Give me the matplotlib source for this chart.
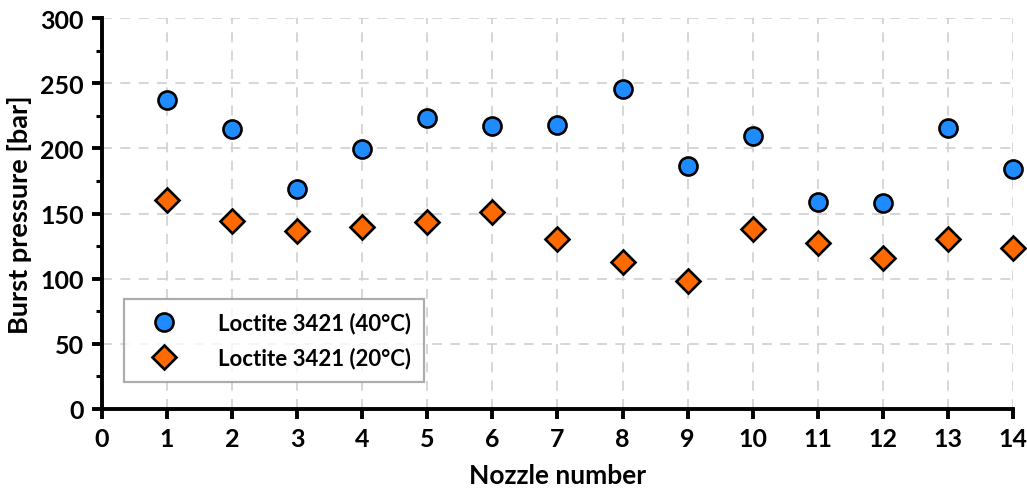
import matplotlib
matplotlib.use("Agg")
import matplotlib.pyplot as plt
from matplotlib.ticker import MultipleLocator

plt.rcParams['font.family'] = ['Lato', 'DejaVu Sans']
plt.rcParams['font.weight'] = 'bold'

nozzles = [1, 2, 3, 4, 5, 6, 7, 8, 9, 10, 11, 12, 13, 14]
p_40c = [237, 215, 169, 199.5, 223, 217, 218, 245.5, 186.5, 209.5, 159, 158, 216, 184]
p_20c = [160.5, 144, 136.5, 139.5, 143.5, 151, 130.5, 112.5, 98.5, 138.5, 127, 116, 130.5, 123.5]

fig = plt.figure(figsize=(10.27, 4.89), dpi=100)
ax = fig.add_axes([0.0993, 0.1616, 0.8870, 0.7994])

ax.plot(nozzles, p_40c, 'o', ls='none', ms=13, mfc='#1e8cff', mec='black', mew=1.9,
        label='Loctite 3421 (40°C)', zorder=3, clip_on=False)
ax.plot(nozzles, p_20c, 'D', ls='none', ms=12.5, mfc='#ff6a00', mec='black', mew=1.9,
        label='Loctite 3421 (20°C)', zorder=3, clip_on=False)

ax.set_xlim(0, 14)
ax.set_ylim(0, 300)
ax.xaxis.set_major_locator(MultipleLocator(1))
ax.yaxis.set_major_locator(MultipleLocator(50))
ax.yaxis.set_minor_locator(MultipleLocator(25))

ax.grid(True, which='major', color='#d0d0d0', ls=(0, (6, 5)), lw=1.2, zorder=0)
for s in ['top', 'right']:
    ax.spines[s].set_visible(False)
for s in ['left', 'bottom']:
    ax.spines[s].set_linewidth(2.8)

ax.tick_params(axis='both', which='major', direction='out', length=7, width=2.8, labelsize=18, pad=6)
ax.tick_params(axis='y', which='minor', direction='out', length=4, width=2.2)
for lbl in ax.get_xticklabels() + ax.get_yticklabels():
    lbl.set_fontweight('bold')

ax.set_xlabel('Nozzle number', fontsize=19, fontweight='bold', labelpad=9)
ax.set_ylabel('Burst pressure [bar]', fontsize=19.5, fontweight='bold', labelpad=6)

leg = ax.legend(loc='lower left', bbox_to_anchor=(0.0245, 0.069), fontsize=16, frameon=True,
                fancybox=False, edgecolor='#999999', borderpad=0.6, handletextpad=1.2,
                labelspacing=0.6, handlelength=2.4, borderaxespad=0)
leg.get_frame().set_linewidth(1.6)
for t in leg.get_texts():
    t.set_fontweight('bold')

fig.savefig('out.png', dpi=100)
